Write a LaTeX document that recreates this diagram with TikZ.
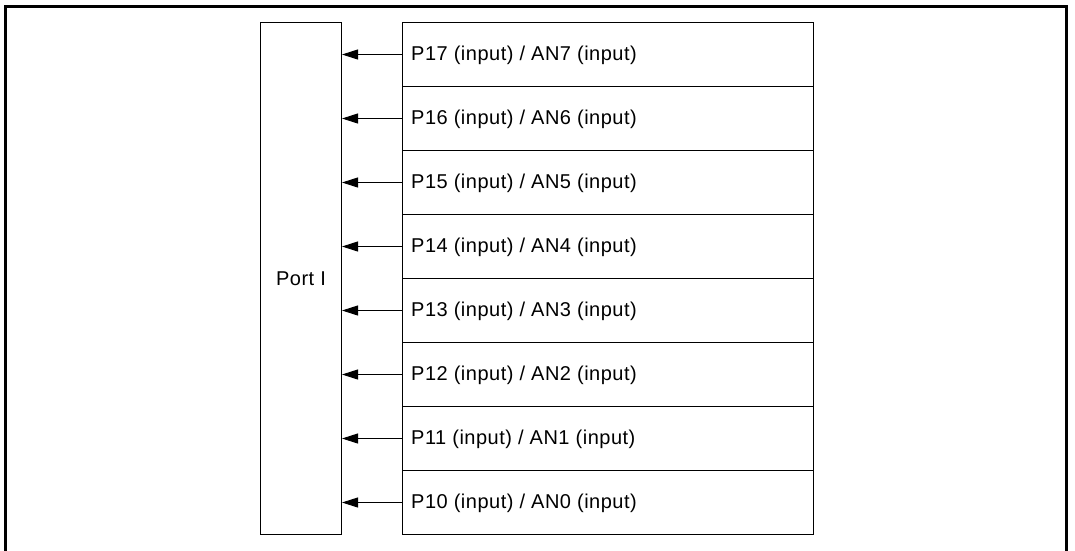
\documentclass[tikz,border=0pt]{standalone}
\usepackage{fontspec}
\setmainfont{Liberation Sans}[LetterSpace=2.5]
\usetikzlibrary{arrows.meta}
\begin{document}
\begin{tikzpicture}[x=1pt,y=-1pt,
  box/.style={draw=black,line width=1pt,inner sep=0pt,anchor=north west},
  sig/.style={draw=black,line width=1pt,-{Triangle[length=16pt,width=10pt]}},
  txt/.style={font=\fontsize{20}{24}\selectfont,inner sep=0pt},
  lbl/.style={txt,anchor=west}]
\useasboundingbox (0,0) rectangle (1075,550);
\begin{scope}
\clip (0,0) rectangle (1075,550);
\draw[line width=3pt] (5,560) -- (5,6) -- (1066,6) -- (1066,560);
\end{scope}
\node[box,minimum width=81pt,minimum height=512pt] (port) at (260,22) {};
\node[txt] (portlbl) at (port.center) {Port I};
\foreach \i/\n in {0/7,1/6,2/5,3/4,4/3,5/2,6/1,7/0}{
  \node[box,minimum width=411pt,minimum height=64pt] (r\n) at (402,22+64*\i) {};
  \node[lbl] (t\n) at ([xshift=9pt,yshift=-0.5pt]r\n.west) {P1\n\ (input) / AN\n\ (input)};
  \draw[sig] (r\n.west) -- (port.east |- r\n.west);
}
\end{tikzpicture}
\end{document}
